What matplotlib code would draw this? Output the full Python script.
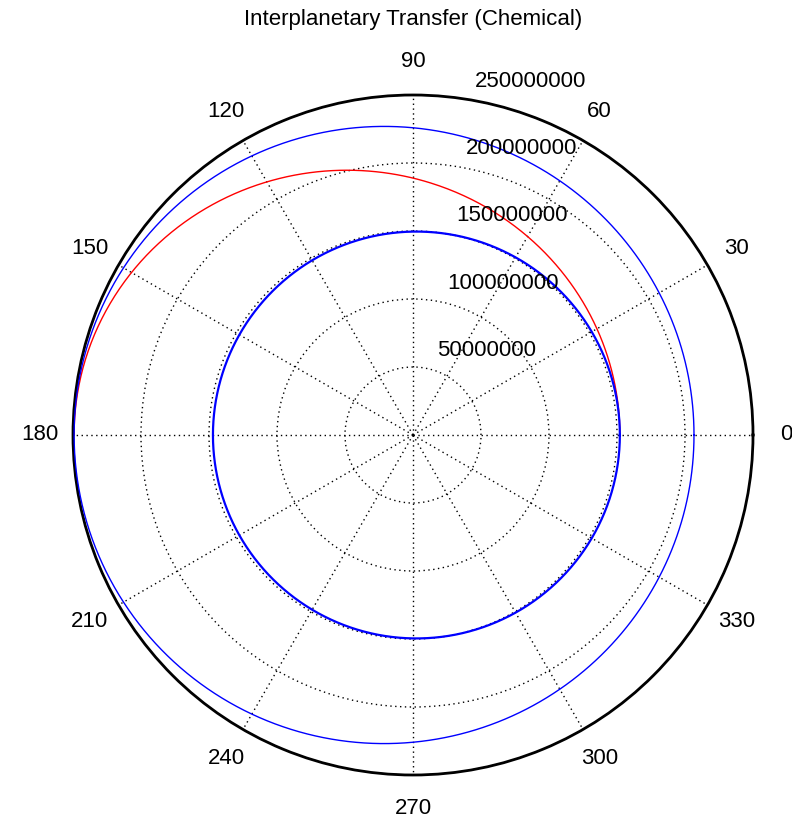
import numpy as np
import matplotlib
matplotlib.use("Agg")
import matplotlib.pyplot as plt

plt.rcParams['font.family'] = ['Liberation Sans', 'DejaVu Sans']

# orbit parameters (km)
bodies = ['Earth', 'Mars']
semi_major = [149.6e6, 227.9e6]
eccentricity = [0.0167, 0.0934]
perihelion_deg = [180, 0]

# Hohmann transfer: leaves Earth at 0 deg, arrives at Mars at 180 deg
transfer_depart = 152.1e6
transfer_arrive = 249.2e6

r_ticks = [50000000, 100000000, 150000000, 200000000, 250000000]
theta_ticks = [0, 30, 60, 90, 120, 150, 180, 210, 240, 270, 300, 330]
title = 'Interplanetary Transfer (Chemical)'


def orbit(a, e, peri_deg, theta):
    """radius of a keplerian orbit (focus at origin) at angles theta"""
    return a * (1 - e ** 2) / (1 + e * np.cos(theta - np.radians(peri_deg)))


fig = plt.figure(figsize=(7.92, 8.19), dpi=100)
W, H = 792, 819
cx, cy, R = 413, 435, 340
ax = fig.add_axes([(cx - R) / W, (H - cy - R) / H, 2 * R / W, 2 * R / H],
                  projection='polar')

rmax = r_ticks[-1]
full = np.linspace(0, 2 * np.pi, 721)
for a, e, p in zip(semi_major, eccentricity, perihelion_deg):
    lw = 1.6 if p == 180 else 1.0
    ax.plot(full, orbit(a, e, p, full), color='#0000ff', lw=lw, zorder=3)

half = np.linspace(0, np.pi, 361)
a_t = (transfer_depart + transfer_arrive) / 2
e_t = (transfer_arrive - transfer_depart) / (transfer_arrive + transfer_depart)
ax.plot(half, orbit(a_t, e_t, 0, half), color='#ff0000', lw=1.0, zorder=2.5)

ax.set_ylim(0, rmax)
ax.set_yticks(r_ticks)
ax.set_yticklabels([])
ax.set_xticks(np.radians(theta_ticks))
ax.set_xticklabels([])
ax.tick_params(length=0)
ax.grid(True, color='black', linestyle=(0, (1, 2.5)), linewidth=1.0)
ax.spines['polar'].set_linewidth(2.0)
ax.spines['polar'].set_color('black')

# angle labels just outside the rim
for t in theta_ticks:
    ax.text(np.radians(t), rmax * 1.098, str(t), ha='center', va='center',
            fontsize=16, clip_on=False)

# radial labels along the 82 degree ray
for r in r_ticks:
    ax.annotate(str(r), xy=(np.radians(82), r), xytext=(15, 17),
                textcoords='offset pixels', ha='left', va='center',
                fontsize=16, zorder=5)

fig.text(cx / W, 1 - 20 / H, title, ha='center', va='center', fontsize=16)

fig.savefig('out.png', dpi=100)
